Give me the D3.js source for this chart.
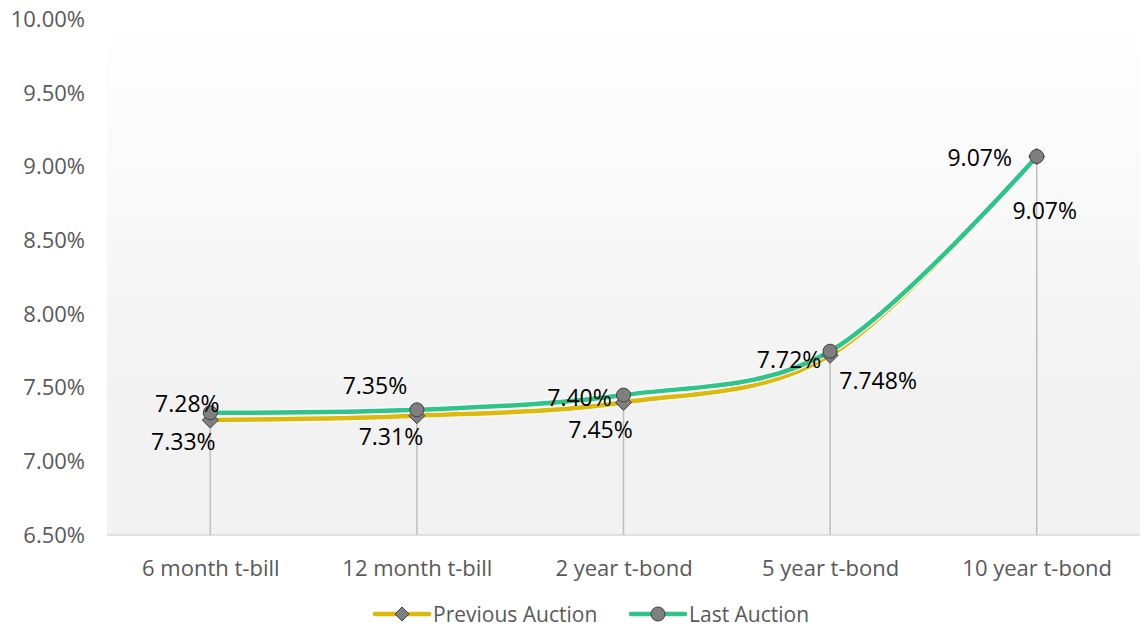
<!DOCTYPE html>
<html><head><meta charset="utf-8">
<script src="https://cdn.jsdelivr.net/npm/d3@7"></script>
<style>
html,body{margin:0;padding:0;background:#fff;}
svg{display:block;font-family:"Open Sans",sans-serif;}
</style></head>
<body>
<svg id="chart" width="1142" height="629"></svg>
<script>
const categories = ["6 month t-bill","12 month t-bill","2 year t-bond","5 year t-bond","10 year t-bond"];
const previousAuction = [7.28, 7.31, 7.40, 7.72, 9.07];
const lastAuction = [7.33, 7.35, 7.45, 7.748, 9.07];
const previousLabels = ["7.28%","7.31%","7.40%","7.72%","9.07%"];
const lastLabels = ["7.33%","7.35%","7.45%","7.748%","9.07%"];
const yTicks = [6.5, 7.0, 7.5, 8.0, 8.5, 9.0, 9.5, 10.0];
const seriesNames = ["Previous Auction","Last Auction"];

// label placement (offsets from point, px)
const prevLabelOffsets = [[-23,-17],[-26,20],[-44,-5],[-41,4],[-57,1]];
const lastLabelOffsets = [[-27,28],[-42,-25],[-23,34],[48,29],[8,54]];

const svg = d3.select("#chart");
const L = 107, R = 1140, T = 19.5, B = 535;

const x = d3.scalePoint().domain(categories).range([L, R]).padding(0.5);
const y = d3.scaleLinear().domain([6.5, 10]).range([B, T]);

const defs = svg.append("defs");
const grad = defs.append("linearGradient").attr("id","bg").attr("x1",0).attr("y1",0).attr("x2",0).attr("y2",1);
grad.append("stop").attr("offset","0%").attr("stop-color","#ffffff");
grad.append("stop").attr("offset","75%").attr("stop-color","#f2f2f2");
grad.append("stop").attr("offset","100%").attr("stop-color","#f2f2f2");

svg.append("rect").attr("x",L).attr("y",T).attr("width",R-L).attr("height",B-T).attr("fill","url(#bg)");

// y axis labels
const yAxis = d3.axisLeft(y).tickValues(yTicks).tickSize(0).tickPadding(0)
  .tickFormat(d => d.toFixed(2) + "%");
const ya = svg.append("g").attr("transform",`translate(85,0)`).call(yAxis);
ya.select(".domain").remove();
ya.selectAll("text").attr("font-size",22).attr("fill","#595959").attr("font-family","'Open Sans',sans-serif");

// x axis
const xAxis = d3.axisBottom(x).tickSize(0).tickPadding(0);
const xa = svg.append("g").attr("transform",`translate(0,${B})`).call(xAxis);
xa.select(".domain").remove();
xa.selectAll("text").attr("font-size",22).attr("fill","#595959").attr("dy",null)
  .attr("y",32).attr("dominant-baseline","central").attr("font-family","'Open Sans',sans-serif");
svg.append("line").attr("x1",L).attr("x2",R).attr("y1",B).attr("y2",B).attr("stroke","#d9d9d9").attr("stroke-width",1.5);

// drop lines
svg.append("g").selectAll("line").data(categories).join("line")
  .attr("x1",d=>x(d)).attr("x2",d=>x(d))
  .attr("y1",(d,i)=>y(Math.max(previousAuction[i], lastAuction[i])))
  .attr("y2",B).attr("stroke","#bfbfbf").attr("stroke-width",1.5);

const line = d3.line().x((d,i)=>x(categories[i])).y(d=>y(d)).curve(d3.curveCardinal.tension(0));

const colors = ["#dcb90c","#30c38a"];
const series = [previousAuction, lastAuction];

series.forEach((s,k)=>{
  svg.append("path").attr("d",line(s)).attr("fill","none").attr("stroke","#ffffff").attr("stroke-width",7);
  svg.append("path").attr("d",line(s)).attr("fill","none").attr("stroke",colors[k]).attr("stroke-width",4.5).attr("stroke-linecap","round");
});

function drawDiamond(g, cx, cy, r){
  g.append("path").attr("d",`M${cx},${cy-r}L${cx+r},${cy}L${cx},${cy+r}L${cx-r},${cy}Z`)
    .attr("fill","#7f7f7f").attr("stroke","#404040").attr("stroke-width",1);
}
function drawCircle(g, cx, cy, r){
  g.append("circle").attr("cx",cx).attr("cy",cy).attr("r",r)
    .attr("fill","#7f7f7f").attr("stroke","#404040").attr("stroke-width",1);
}
const mk = svg.append("g");
previousAuction.forEach((v,i)=>drawDiamond(mk, x(categories[i]), y(v), 8));
lastAuction.forEach((v,i)=>drawCircle(mk, x(categories[i]), y(v), 7));

// data labels
const lg = svg.append("g").attr("font-size",23).attr("fill","#000").attr("text-anchor","middle").attr("dominant-baseline","central");
previousAuction.forEach((v,i)=>{
  lg.append("text").attr("x",x(categories[i])+prevLabelOffsets[i][0]).attr("y",y(v)+prevLabelOffsets[i][1]).text(previousLabels[i]);
});
lastAuction.forEach((v,i)=>{
  lg.append("text").attr("x",x(categories[i])+lastLabelOffsets[i][0]).attr("y",y(v)+lastLabelOffsets[i][1]).text(lastLabels[i]);
});

// legend
const legY = 614;
const leg = svg.append("g");
const legItems = [{x0:375, name:seriesNames[0], k:0},{x0:631, name:seriesNames[1], k:1}];
legItems.forEach(it=>{
  leg.append("line").attr("x1",it.x0).attr("x2",it.x0+54).attr("y1",legY).attr("y2",legY)
    .attr("stroke",colors[it.k]).attr("stroke-width",4.5).attr("stroke-linecap","round");
  if(it.k===0) drawDiamond(leg, it.x0+27, legY, 7); else drawCircle(leg, it.x0+27, legY, 7);
  leg.append("text").attr("x",it.x0+58).attr("y",legY).attr("dominant-baseline","central")
    .attr("font-size",21).attr("fill","#595959").text(it.name);
});
</script>
</body></html>
